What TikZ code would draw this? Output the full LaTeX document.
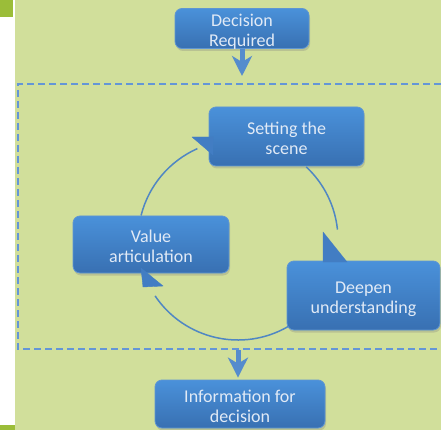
\documentclass[tikz,border=0pt]{standalone}
\usepackage{fontspec}
\setmainfont{Carlito}
\usetikzlibrary{shadows,arrows.meta}
\definecolor{bggreen}{RGB}{209,223,155}
\definecolor{darkgreen}{RGB}{155,189,57}
\definecolor{boxtop}{RGB}{74,145,218}
\definecolor{boxbot}{RGB}{56,112,178}
\definecolor{boxedge}{RGB}{95,150,210}
\definecolor{txt}{RGB}{225,234,246}
\definecolor{linec}{RGB}{80,135,195}
\definecolor{trifill}{RGB}{66,125,195}
\definecolor{dashc}{RGB}{100,150,215}
\definecolor{arrowc}{RGB}{85,140,205}
\newcommand\twol[2]{\raisebox{-4pt}[\height][\depth]{\begin{tabular}{@{}c@{}}#1\\#2\end{tabular}}}
\begin{document}
\begin{tikzpicture}[x=1pt,y=-1pt,
  bluebox/.style={draw=boxedge, line width=0.8pt, rounded corners=7pt,
    top color=boxtop, bottom color=boxbot, text=txt,
    font=\fontsize{18}{20}\selectfont, inner sep=0pt,
    drop shadow={opacity=0.3, shadow xshift=1pt, shadow yshift=-2.5pt}},
  cyc/.style={draw=linec, line width=1.5pt},
  tri/.style={fill=trifill, draw=trifill, line width=0.4pt, line join=round},
  bigarrow/.style={draw=arrowc, line width=5pt,
    -{Stealth[length=20pt,width=20pt,inset=6pt]}},
  frame/.style={draw=dashc, line width=1.5pt, dash pattern=on 7pt off 4pt}]
\useasboundingbox (0,0) rectangle (441,430);
% background
\fill[white] (0,0) rectangle (15,430);
\fill[bggreen] (15,0) rectangle (441,430);
\fill[darkgreen] (0,0) rectangle (13,17);
\fill[darkgreen] (0,425) rectangle (15,430);
% dashed frame
\coordinate (fr1) at (441,84);
\coordinate (fr2) at (18,84);
\coordinate (fr3) at (18,349);
\coordinate (fr4) at (441,349);
\draw[frame, draw=black, opacity=0.12, yshift=-2pt] (fr1) -- (fr2) -- (fr3) -- (fr4);
\draw[frame] (fr1) -- (fr2) -- (fr3) -- (fr4);
% boxes
\node[bluebox, minimum width=134pt, minimum height=35pt] (dec) at (242,28.5) {\twol{Decision}{Required}};
\node[bluebox, minimum width=155pt, minimum height=59pt] (set) at (286.5,136.5) {\twol{Setting the}{scene}};
\node[bluebox, minimum width=156pt, minimum height=57pt] (val) at (151,244.5) {\twol{Value}{articulation}};
\node[bluebox, minimum width=153pt, minimum height=69pt] (dee) at (363.5,295.5) {\twol{Deepen}{understanding}};
\node[bluebox, minimum width=170pt, minimum height=48pt] (inf) at (240,404) {\twol{Information for}{decision}};
% big arrows
\coordinate (dtip) at (242,76);
\draw[bigarrow] (dec.south) -- (dtip);
\coordinate (ftop) at (238,350);
\draw[bigarrow, shorten >=2pt] (ftop) -- (inf.north -| ftop);
% cycle
\coordinate (c) at (238,240);
\draw[cyc] (c) ++(194.2:100) arc[start angle=194.2, end angle=246, radius=100];
\draw[cyc] (c) ++(-47:100) arc[start angle=-47, end angle=-6, radius=100];
\draw[cyc] (c) ++(60:100) arc[start angle=60, end angle=146, radius=100];
% arrowheads
\filldraw[tri] (192,137) -- (213,137) -- (213,155) -- cycle;
\filldraw[tri] (323,232) -- (323,262) -- (347,262) -- cycle;
\filldraw[tri] (141,268) -- (143,287) -- (163,286) -- cycle;
\end{tikzpicture}
\end{document}
